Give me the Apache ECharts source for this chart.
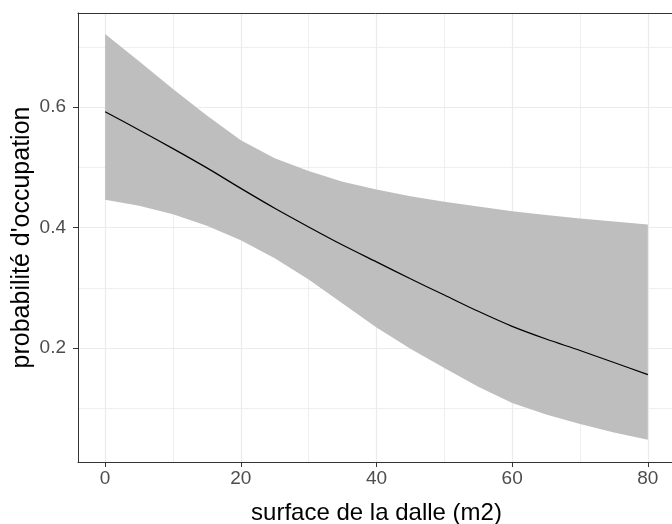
<!DOCTYPE html>
<html>
<head>
<meta charset="utf-8">
<script src="https://cdn.jsdelivr.net/npm/echarts@6/dist/echarts.min.js"></script>
<style>
html,body{margin:0;padding:0;background:#fff;}
#c{width:672px;height:524px;}
</style>
</head>
<body>
<div id="c"></div>
<script>
// surface de la dalle (m2)
const xs = [0, 5, 10, 15, 20, 25, 30, 35, 40, 45, 50, 55, 60, 65, 70, 75, 80];
// predicted probability
const fit = [0.592, 0.562, 0.531, 0.499, 0.465, 0.432, 0.401, 0.371, 0.343, 0.315, 0.288, 0.261, 0.236, 0.215, 0.196, 0.176, 0.156];
// lower confidence bound
const lower = [0.446, 0.436, 0.422, 0.403, 0.379, 0.349, 0.314, 0.274, 0.234, 0.199, 0.167, 0.136, 0.109, 0.090, 0.074, 0.060, 0.048];
// upper confidence bound
const upper = [0.721, 0.676, 0.630, 0.586, 0.545, 0.515, 0.494, 0.476, 0.463, 0.452, 0.443, 0.435, 0.427, 0.421, 0.415, 0.410, 0.405];

const xTicks = [0, 20, 40, 60, 80];
const xMinor = [10, 30, 50, 70];
const yTicks = [0.2, 0.4, 0.6];
const yMinor = [0.1, 0.3, 0.5, 0.7];

const xTitle = 'surface de la dalle (m2)';
const yTitle = "probabilité d'occupation";

// axis limits (ggplot-style expanded range)
const xMin = -4, xMax = 84;
const yMin = 0.011, yMax = 0.756;

const FONT = "'Liberation Sans', Arial, sans-serif";
const GRID = '#EBEBEB';
const DARK = '#333333';

const chart = echarts.init(document.getElementById('c'), null, {renderer: 'canvas'});

const ribbonData = xs.map((x, i) => [x, lower[i], upper[i]]);
const lineData = xs.map((x, i) => [x, fit[i]]);

chart.setOption({
  animation: false,
  backgroundColor: '#ffffff',
  grid: {
    left: 78, top: 13, width: 597, height: 449,
    show: false, containLabel: false, outerBoundsMode: 'none'
  },
  xAxis: [
    {
      type: 'value', min: xMin, max: xMax, position: 'bottom',
      name: xTitle, nameLocation: 'middle', nameGap: 39, nameMoveOverlap: false,
      nameTextStyle: {fontFamily: FONT, fontSize: 24, color: '#000'},
      axisLine: {show: true, onZero: false, lineStyle: {color: DARK, width: 1}},
      axisTick: {show: true, customValues: xTicks, length: 5, lineStyle: {color: DARK, width: 1}},
      axisLabel: {customValues: xTicks, fontFamily: FONT, fontSize: 19, color: '#4D4D4D', margin: 7},
      splitLine: {show: true, lineStyle: {color: GRID, width: 1.2}}
    },
    {
      type: 'value', min: xMin, max: xMax, position: 'top',
      axisLine: {show: true, onZero: false, lineStyle: {color: DARK, width: 1}},
      axisTick: {show: false, customValues: xMinor},
      axisLabel: {show: false, customValues: xMinor},
      splitLine: {show: true, lineStyle: {color: GRID, width: 0.8}}
    }
  ],
  yAxis: [
    {
      type: 'value', min: yMin, max: yMax, position: 'left',
      name: yTitle, nameLocation: 'middle', nameGap: 43, nameMoveOverlap: false,
      nameTextStyle: {fontFamily: FONT, fontSize: 25, color: '#000'},
      axisLine: {show: true, onZero: false, lineStyle: {color: DARK, width: 1}},
      axisTick: {show: true, customValues: yTicks, length: 5, lineStyle: {color: DARK, width: 1}},
      axisLabel: {customValues: yTicks, fontFamily: FONT, fontSize: 19, color: '#4D4D4D', margin: 12,
                  formatter: v => v.toFixed(1)},
      splitLine: {show: true, lineStyle: {color: GRID, width: 1.2}}
    },
    {
      type: 'value', min: yMin, max: yMax, position: 'left',
      axisLine: {show: false, onZero: false},
      axisTick: {show: false, customValues: yMinor},
      axisLabel: {show: false, customValues: yMinor},
      splitLine: {show: true, lineStyle: {color: GRID, width: 0.8}}
    }
  ],
  series: [
    {
      type: 'custom',
      xAxisIndex: 0, yAxisIndex: 0,
      data: ribbonData,
      encode: {x: 0, y: [1, 2]},
      clip: true,
      z: 2,
      renderItem: function (params, api) {
        if (params.dataIndex !== 0) return null;
        const pts = [];
        for (let i = 0; i < ribbonData.length; i++) pts.push(api.coord([ribbonData[i][0], ribbonData[i][2]]));
        for (let i = ribbonData.length - 1; i >= 0; i--) pts.push(api.coord([ribbonData[i][0], ribbonData[i][1]]));
        return {type: 'polygon', shape: {points: pts}, style: {fill: '#BEBEBE', stroke: null}};
      }
    },
    {
      type: 'line',
      xAxisIndex: 0, yAxisIndex: 0,
      data: lineData,
      smooth: 0.3,
      showSymbol: false,
      z: 3,
      lineStyle: {color: '#000000', width: 1.2}
    }
  ]
});
</script>
</body>
</html>
